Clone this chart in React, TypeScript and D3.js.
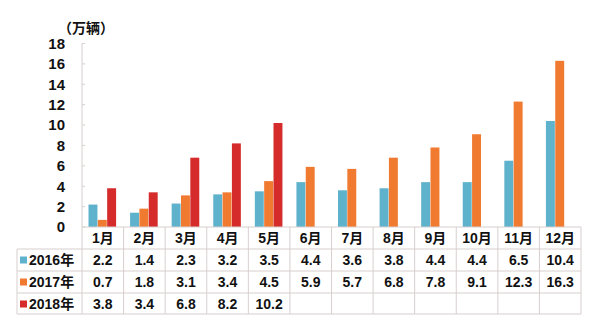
import React from "react";
import * as d3 from "d3";

const months = ["1月","2月","3月","4月","5月","6月","7月","8月","9月","10月","11月","12月"];
const seriesNames = ["2016年","2017年","2018年"];
const s2016 = [2.2,1.4,2.3,3.2,3.5,4.4,3.6,3.8,4.4,4.4,6.5,10.4];
const s2017 = [0.7,1.8,3.1,3.4,4.5,5.9,5.7,6.8,7.8,9.1,12.3,16.3];
const s2018 = [3.8,3.4,6.8,8.2,10.2];
const yTicks = [0,2,4,6,8,10,12,14,16,18];
const colors = ["#5fb2cb","#f07a30","#d52b2b"];
const unitLabel = "（万辆）";

export default function App() {
  const W = 600, H = 328;
  const left = 82, right = 581, top = 43.5, base = 227;
  const x = d3.scaleBand<string>().domain(months).range([left, right]).paddingInner(0).paddingOuter(0);
  const y = d3.scaleLinear().domain([0, 18]).range([base, top]);
  const sub = d3.scaleBand<string>().domain(seriesNames).range([6.5, 34.5]).padding(0);
  const series = [s2016, s2017, s2018];
  const rowH = 22;
  const rows = [base, base + rowH, base + 2 * rowH, base + 3 * rowH, base + 4 * rowH - 1];
  const gridColor = "#d8cfcf";
  const font = "'Liberation Sans', Arial, 'Noto Sans CJK SC', sans-serif";
  const fmt = (v: number) => v.toFixed(1);

  return (
    <svg width={W} height={H} style={{ position: "absolute", left: 0, top: 0, background: "#fff" }} fontFamily={font}>
      <rect x={0} y={0} width={W} height={H} fill="#fff" />
      {/* unit label */}
      <text x={58} y={33} fontSize={14} fontWeight="bold" fill="#111" fontFamily="'Noto Sans CJK SC', sans-serif">{unitLabel}</text>
      {/* y axis */}
      <line x1={left} x2={left} y1={top} y2={base} stroke={gridColor} strokeWidth={1} />
      {yTicks.map(t => (
        <g key={t}>
          <line x1={left} x2={left + 3} y1={y(t)} y2={y(t)} stroke={gridColor} />
          <text x={65} y={y(t)} dy="0.36em" textAnchor="end" fontSize={15} fontWeight="bold" fill="#111">{t}</text>
        </g>
      ))}
      {/* bars */}
      {series.map((s, si) => s.map((v, i) => (
        <rect key={`${si}-${i}`} x={(x(months[i]) as number) + (sub(seriesNames[si]) as number)} width={sub.bandwidth() - 0.4}
          y={y(v)} height={y(0) - y(v)} fill={colors[si]} />
      )))}
      {/* table grid */}
      <line x1={left} x2={right} y1={base} y2={base} stroke={gridColor} />
      {rows.slice(1).map((ry, i) => (
        <line key={i} x1={17} x2={right} y1={ry} y2={ry} stroke={gridColor} />
      ))}
      <line x1={17} x2={17} y1={rows[1]} y2={rows[4]} stroke={gridColor} />
      {months.map((m, i) => (
        <line key={m} x1={(x(m) as number)} x2={(x(m) as number)} y1={base} y2={rows[4]} stroke={gridColor} />
      ))}
      <line x1={right} x2={right} y1={base} y2={rows[4]} stroke={gridColor} />
      {/* month labels */}
      {months.map(m => (
        <text key={m} x={(x(m) as number) + x.bandwidth() / 2} y={base + rowH / 2} dy="0.36em" textAnchor="middle"
          fontSize={14} fontWeight="bold" fill="#111">{m}</text>
      ))}
      {/* legend + values */}
      {series.map((s, si) => {
        const cy = rows[si + 1] + rowH / 2;
        return (
          <g key={si}>
            <rect x={20} y={cy - 3.5} width={7} height={7} fill={colors[si]} />
            <text x={29} y={cy} dy="0.36em" fontSize={14} fontWeight="bold" fill="#111">{seriesNames[si]}</text>
            {s.map((v, i) => (
              <text key={i} x={(x(months[i]) as number) + x.bandwidth() / 2} y={cy} dy="0.36em" textAnchor="middle"
                fontSize={14} fontWeight="bold" fill="#111">{fmt(v)}</text>
            ))}
          </g>
        );
      })}
    </svg>
  );
}
